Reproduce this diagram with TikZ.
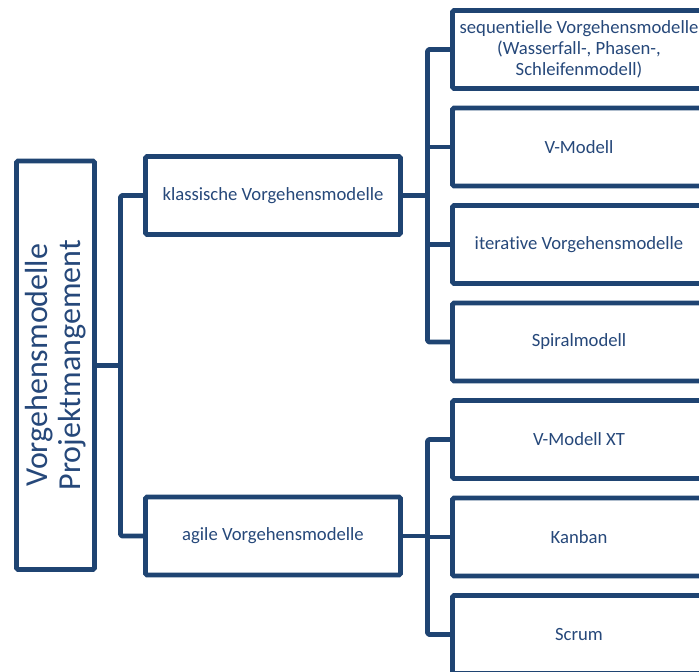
\documentclass[tikz,border=0pt]{standalone}
\usepackage{fontspec}
\setmainfont[RawFeature={-liga}]{Carlito}
\definecolor{lineblue}{RGB}{31,68,114}
\definecolor{textblue}{RGB}{38,72,122}
\begin{document}
\begin{tikzpicture}[x=0.75pt,y=-0.75pt,
  every node/.style={inner sep=0pt,outer sep=0pt},
  box/.style={draw=lineblue,line width=3.6pt,fill=white,rounded corners=1.2pt,
    anchor=north west,text=textblue,align=center},
  mainbox/.style={box,minimum width=58.5pt,minimum height=306.4pt},
  midbox/.style={box,minimum width=191.25pt,minimum height=58.5pt,
    font=\fontsize{14}{17}\selectfont},
  leafbox/.style={box,minimum width=189.75pt,minimum height=58.5pt,
    font=\fontsize{14}{15.8}\selectfont},
  conn/.style={draw=lineblue,line width=3.6pt,line join=round,rounded corners=1.2pt}]
\clip (0,0) rectangle (699,671);
\fill[white] (0,0) rectangle (699,671);

% root box with rotated title
\node[mainbox] (root) at (16.5,161) {};
\node[rotate=90,text=textblue,align=center,font=\fontsize{24}{25}\selectfont]
  (roottext) at (root.center) {Vorgehensmodelle\\Projektmangement};

% second level
\node[midbox] (klass) at (145.5,156.5) {klassische Vorgehensmodelle};
\node[midbox] (agile) at (145.5,497) {agile Vorgehensmodelle};

% leaves
\node[leafbox] (seq) at (452.5,10.5) {sequentielle Vorgehensmodelle\\(Wasserfall-, Phasen-,\\Schleifenmodell)};
\node[leafbox] (vm) at (452.5,108) {V-Modell};
\node[leafbox] (iter) at (452.5,205.5) {iterative Vorgehensmodelle};
\node[leafbox] (spiral) at (452.5,303) {Spiralmodell};
\node[leafbox] (vmxt) at (452.5,400.5) {V-Modell XT};
\node[leafbox] (kanban) at (452.5,498) {Kanban};
\node[leafbox] (scrum) at (452.5,595.5) {Scrum};

% bus lines
\coordinate (lbus) at (120.5,0);
\coordinate (kbus) at (427.5,0);

\draw[conn] (root.east) -- (root.east -| lbus);
\draw[conn] (klass.west) -- (klass.west -| lbus) -- (agile.west -| lbus) -- (agile.west);

\draw[conn] (klass.east) -- (klass.east -| kbus);
\draw[conn] (seq.west) -- (seq.west -| kbus) -- (spiral.west -| kbus) -- (spiral.west);
\draw[conn] (vm.west) -- (vm.west -| kbus);
\draw[conn] (iter.west) -- (iter.west -| kbus);

\draw[conn] (agile.east) -- (agile.east -| kbus);
\draw[conn] (vmxt.west) -- (vmxt.west -| kbus) -- (scrum.west -| kbus) -- (scrum.west);
\draw[conn] (kanban.west) -- (kanban.west -| kbus);
\end{tikzpicture}
\end{document}
